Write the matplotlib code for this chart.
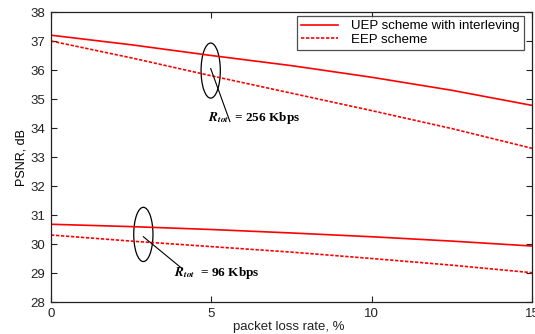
import matplotlib
matplotlib.use("Agg")
import matplotlib.pyplot as plt
from matplotlib.patches import Ellipse

plt.rcParams['font.family'] = ['Liberation Sans', 'DejaVu Sans']
plt.rcParams['mathtext.fontset'] = 'stix'

loss_rate = [0, 2.5, 5, 7.5, 10, 12.5, 15]
uep_256 = [37.2, 36.87, 36.5, 36.15, 35.75, 35.3, 34.78]
eep_256 = [37.0, 36.42, 35.8, 35.2, 34.6, 33.98, 33.3]
uep_96 = [30.68, 30.6, 30.5, 30.38, 30.25, 30.1, 29.93]
eep_96 = [30.31, 30.1, 29.91, 29.72, 29.5, 29.27, 29.01]
series_labels = ['UEP scheme with interleving', 'EEP scheme']
x_ticks = [0, 5, 10, 15]
y_ticks = [28, 29, 30, 31, 32, 33, 34, 35, 36, 37, 38]

fig = plt.figure(figsize=(5.35, 3.34), dpi=100)
ax = fig.add_axes([51/535, 1 - 302/334, (532-51)/535, (302-12)/334])

dot = (0, (2, 1))
ax.plot(loss_rate, uep_256, color='#ff0000', lw=1.2, label=series_labels[0])
ax.plot(loss_rate, eep_256, color='#ff0000', lw=1.2, ls=dot, label=series_labels[1])
ax.plot(loss_rate, uep_96, color='#ff0000', lw=1.2)
ax.plot(loss_rate, eep_96, color='#ff0000', lw=1.2, ls=dot)

ax.set_xlim(0, 15)
ax.set_ylim(28, 38)
ax.set_xticks(x_ticks)
ax.set_yticks(y_ticks)
ax.tick_params(direction='in', top=True, right=True, labelsize=9.5, length=4,
               pad=4, colors='#222222')
for s in ax.spines.values():
    s.set_color('#222222')
    s.set_linewidth(0.9)

fig.text(289/535, 1 - 330/334, 'packet loss rate, %', fontsize=9.5,
         ha='center', va='baseline', color='#222222')
ax.set_ylabel('PSNR, dB', fontsize=9, labelpad=2)

leg = ax.legend(loc='upper right', fontsize=9.5, frameon=True, fancybox=False,
                edgecolor='#222222', handlelength=2.8, handletextpad=1.0,
                borderpad=0.3, borderaxespad=0, labelspacing=0.1,
                bbox_to_anchor=(1 - 8/481, 1 - 4/290))
leg.get_frame().set_linewidth(0.9)

ax.add_patch(Ellipse((4.98, 35.98), 0.6, 1.9, fill=False, ec='black', lw=0.9))
ax.add_patch(Ellipse((2.88, 30.33), 0.6, 1.87, fill=False, ec='black', lw=0.9))
ax.plot([4.98, 5.58], [36.05, 34.22], color='black', lw=0.8)
ax.plot([2.88, 4.08], [30.25, 29.16], color='black', lw=0.8)

ax.text(4.9, 34.34, r'$\mathbfit{R}_{\mathbfit{tot}}$' + '  = 256 Kbps', fontsize=9.5,
        fontfamily='Liberation Serif', fontweight='bold', va='center', ha='left')
ax.text(3.84, 29.0, r'$\mathbfit{R}_{\mathbfit{tot}}$' + '  = 96 Kbps', fontsize=9.5,
        fontfamily='Liberation Serif', fontweight='bold', va='center', ha='left')

fig.savefig('out.png', dpi=100)
